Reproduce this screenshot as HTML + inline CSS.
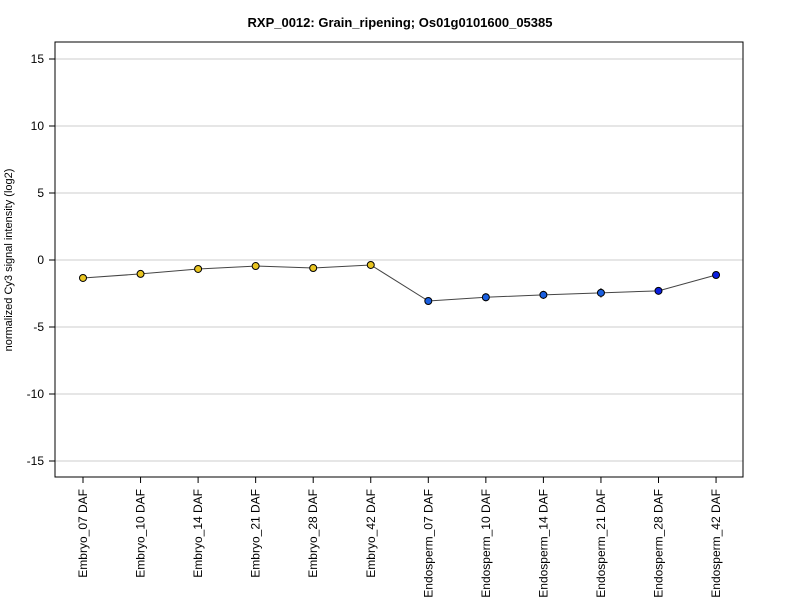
<!DOCTYPE html>
<html><head><meta charset="utf-8"><style>body{margin:0;background:#fff}svg{font-family:"Liberation Sans",sans-serif}</style></head>
<body>
<svg id="c" width="800" height="600">
<text x="400" y="27" text-anchor="middle" font-weight="bold" font-size="13">RXP_0012: Grain_ripening; Os01g0101600_05385</text>
<text transform="translate(12,260) rotate(-90)" text-anchor="middle" font-size="11">normalized Cy3 signal intensity (log2)</text>
<g id="grid"></g><g id="axes"></g><g id="marks"></g>
<rect x="55" y="42" width="688" height="435" fill="none" stroke="#000"/>
</svg>
<script>
const categories=["Embryo_07 DAF","Embryo_10 DAF","Embryo_14 DAF","Embryo_21 DAF","Embryo_28 DAF","Embryo_42 DAF","Endosperm_07 DAF","Endosperm_10 DAF","Endosperm_14 DAF","Endosperm_21 DAF","Endosperm_28 DAF","Endosperm_42 DAF"];
const values=[-1.34,-1.04,-0.67,-0.45,-0.6,-0.37,-3.06,-2.78,-2.6,-2.45,-2.3,-1.12];
const errors=[0.1,0.15,0.1,0.1,0.1,0.1,0.25,0.3,0.3,0.35,0.1,0.1];
const colors=["#e8c420","#e8c420","#e8c420","#e8c420","#e8c420","#e8c420","#1a5fe0","#1a5fe0","#1a5fe0","#1a5fe0","#0a1ee0","#0a1ee0"];
const yTicks=[-15,-10,-5,0,5,10,15];
const NS="http://www.w3.org/2000/svg";
const x=i=>83+i*57.55;
const y=v=>260-v*13.4;
function mk(t,a,p){const e=document.createElementNS(NS,t);for(const k in a)e.setAttribute(k,a[k]);document.getElementById(p).appendChild(e);return e;}
yTicks.forEach(t=>{
 const g=mk("line",{x1:55,x2:743,y1:y(t),y2:y(t),stroke:"#ccc"},"grid");
 
 
 const k=mk("line",{x1:49,x2:55,y1:y(t),y2:y(t),stroke:"#000"},"axes");
 
 
 const l=mk("text",{x:44,y:y(t)+4,"text-anchor":"end","font-size":"12"},"axes");l.textContent=t;
 
 
});
categories.forEach((c,i)=>{
 const k=mk("line",{x1:x(i),x2:x(i),y1:477,y2:483,stroke:"#000"},"axes");
 
 
 const l=mk("text",{transform:`translate(${x(i)+4},489) rotate(-90)`,"text-anchor":"end","font-size":"12"},"axes");l.textContent=c;
 
 
});
const ln=mk("polyline",{points:values.map((v,i)=>x(i)+","+y(v)).join(" "),fill:"none",stroke:"#444","stroke-width":1},"marks");


values.forEach((v,i)=>{
 const e=mk("line",{x1:x(i),x2:x(i),y1:y(v-errors[i]),y2:y(v+errors[i]),stroke:"#000"},"marks");
 
 
 const p=mk("circle",{cx:x(i),cy:y(v),r:3.5,fill:colors[i],stroke:"#000"},"marks");
 
 
});
</script>
</body></html>
